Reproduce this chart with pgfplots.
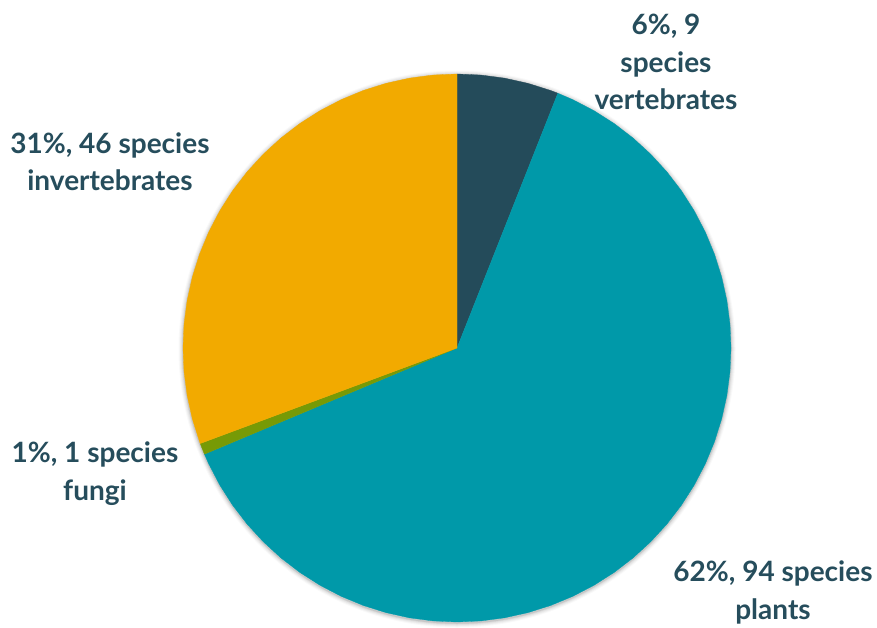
\documentclass[border=0pt]{standalone}
\usepackage{pgfplots}
\usepackage{pgfplotstable}
\pgfplotsset{compat=1.18}
\usepackage{fontspec}
\setmainfont{Lato}
\definecolor{vert}{HTML}{244B5A}
\definecolor{plant}{HTML}{0099A9}
\definecolor{fung}{HTML}{779A06}
\definecolor{invert}{HTML}{F2AA00}
\definecolor{txt}{HTML}{264D5C}
% values: vertebrates 9, plants 94, fungi 1, invertebrates 46 (total 150)
% slice angles (clockwise from 90 deg): 90 -> 68.4 -> -157.2 -> -159.6 -> -270
\pgfplotstableread{
a r
0 0
90 274
85 274
80 274
75 274
70 274
68.4 274
}\tvert
\pgfplotstableread{
a r
0 0
68.4 274
65 274
60 274
55 274
50 274
45 274
40 274
35 274
30 274
25 274
20 274
15 274
10 274
5 274
0 274
-5 274
-10 274
-15 274
-20 274
-25 274
-30 274
-35 274
-40 274
-45 274
-50 274
-55 274
-60 274
-65 274
-70 274
-75 274
-80 274
-85 274
-90 274
-95 274
-100 274
-105 274
-110 274
-115 274
-120 274
-125 274
-130 274
-135 274
-140 274
-145 274
-150 274
-155 274
-157.2 274
}\tplant
\pgfplotstableread{
a r
0 0
-157.2 274
-158.4 274
-159.6 274
}\tfung
\pgfplotstableread{
a r
0 0
-159.6 274
-160 274
-165 274
-170 274
-175 274
-180 274
-185 274
-190 274
-195 274
-200 274
-205 274
-210 274
-215 274
-220 274
-225 274
-230 274
-235 274
-240 274
-245 274
-250 274
-255 274
-260 274
-265 274
-270 274
}\tinvert
\begin{document}
\begin{tikzpicture}
\begin{axis}[
  scale only axis, width=877pt, height=625pt,
  xmin=-457, xmax=420, ymin=-277, ymax=348,
  hide axis, clip=false,
]
\path (rel axis cs:0,0) rectangle (rel axis cs:1,1);
\draw[black, opacity=0.025, line width=9pt] (axis cs:0,-1) circle[radius=274];
\draw[black, opacity=0.035, line width=7pt] (axis cs:0,-1) circle[radius=274];
\draw[black, opacity=0.045, line width=5pt] (axis cs:0,-1) circle[radius=274];
\draw[black, opacity=0.06, line width=3pt] (axis cs:0,-1) circle[radius=274];
\draw[black, opacity=0.08, line width=1.5pt] (axis cs:0,-1) circle[radius=274];
\addplot[fill=vert, draw=vert, line width=0.3pt, data cs=polar] table[x=a, y=r] {\tvert} -- cycle;
\addplot[fill=plant, draw=plant, line width=0.3pt, data cs=polar] table[x=a, y=r] {\tplant} -- cycle;
\addplot[fill=fung, draw=fung, line width=0.3pt, data cs=polar] table[x=a, y=r] {\tfung} -- cycle;
\addplot[fill=invert, draw=invert, line width=0.3pt, data cs=polar] table[x=a, y=r] {\tinvert} -- cycle;
\node[align=center, text=txt, font=\fontsize{28}{37.5}\selectfont\bfseries, inner sep=0pt] at (axis cs:209,286) {6\%, 9\\species\\vertebrates};
\node[align=center, text=txt, font=\fontsize{28}{37.5}\selectfont\bfseries, inner sep=0pt] at (axis cs:-347,186.5) {31\%, 46 species\\invertebrates};
\node[align=center, text=txt, font=\fontsize{28}{37.5}\selectfont\bfseries, inner sep=0pt] at (axis cs:-362,-125.5) {1\%, 1 species\\fungi};
\node[align=center, text=txt, font=\fontsize{28}{37.5}\selectfont\bfseries, inner sep=0pt] at (axis cs:316,-244.5) {62\%, 94 species\\plants};
\end{axis}
\end{tikzpicture}
\end{document}
